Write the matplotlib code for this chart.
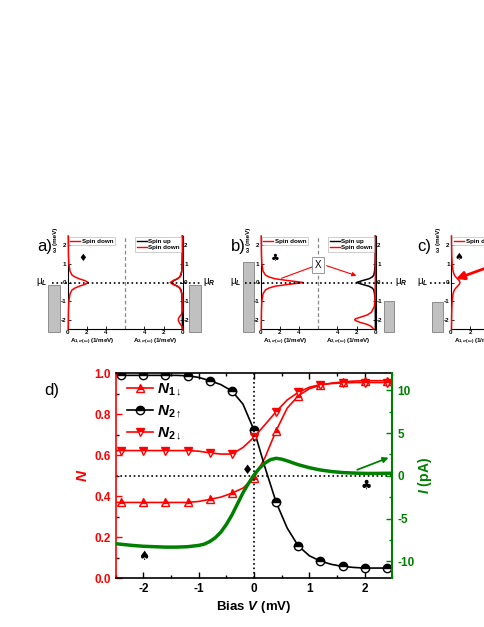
import matplotlib
matplotlib.use('Agg')
import matplotlib.pyplot as plt
from matplotlib.lines import Line2D
from matplotlib.patches import Rectangle
from matplotlib.ticker import MultipleLocator, FormatStrFormatter

plt.rcParams['font.family'] = ['Liberation Sans', 'DejaVu Sans']
plt.rcParams['font.weight'] = 'bold'
plt.rcParams['axes.unicode_minus'] = False
plt.rcParams['mathtext.fontset'] = 'custom'
plt.rcParams['mathtext.rm'] = 'Liberation Sans:bold'
plt.rcParams['mathtext.it'] = 'Liberation Sans:italic:bold'
plt.rcParams['mathtext.bf'] = 'Liberation Sans:bold'

RED = '#ff0000'
GREEN = '#008000'

# d) occupations and current vs bias
bias = [-2.5, -2.4, -2.2, -2.0, -1.8, -1.6, -1.4, -1.2, -1.0, -0.8, -0.6, -0.4, -0.2,
        0.0, 0.2, 0.4, 0.6, 0.8, 1.0, 1.2, 1.4, 1.6, 1.8, 2.0, 2.2, 2.4, 2.5]
n1_down = [0.37, 0.37, 0.37, 0.37, 0.37, 0.37, 0.37, 0.37, 0.375, 0.385, 0.396, 0.415, 0.44,
           0.49, 0.59, 0.72, 0.83, 0.89, 0.925, 0.942, 0.952, 0.958, 0.962, 0.964, 0.964, 0.964, 0.964]
n2_up = [0.99, 0.99, 0.99, 0.99, 0.99, 0.99, 0.99, 0.988, 0.98, 0.964, 0.945, 0.914, 0.85,
         0.723, 0.54, 0.371, 0.245, 0.158, 0.11, 0.084, 0.068, 0.058, 0.053, 0.05, 0.05, 0.05, 0.05]
n2_down = [0.623, 0.623, 0.623, 0.623, 0.623, 0.623, 0.623, 0.623, 0.62, 0.612, 0.606, 0.606, 0.638,
           0.688, 0.75, 0.813, 0.87, 0.907, 0.932, 0.945, 0.95, 0.953, 0.955, 0.955, 0.955, 0.955, 0.955]

bias_i = [-2.5, -2.2, -2.0, -1.8, -1.6, -1.4, -1.2, -1.0, -0.9, -0.8, -0.7, -0.6, -0.5, -0.4,
          -0.3, -0.2, -0.1, 0.0, 0.1, 0.2, 0.3, 0.4, 0.5, 0.6, 0.8, 1.0, 1.2, 1.4, 1.6, 1.8,
          2.0, 2.2, 2.5]
current = [-7.95, -8.15, -8.25, -8.3, -8.35, -8.35, -8.3, -8.15, -8.0, -7.7, -7.25, -6.6, -5.7,
           -4.6, -3.3, -2.0, -0.9, 0.1, 0.9, 1.5, 1.9, 2.05, 1.95, 1.75, 1.3, 0.95, 0.68, 0.5,
           0.38, 0.32, 0.28, 0.28, 0.3]

# a)-c) spectral functions (omega in meV, A in 1/meV)
w_peak = [-2.5, -1.5, -1.0, -0.6, -0.4, -0.3, -0.2, -0.1, 0.0, 0.1, 0.2, 0.3, 0.4, 0.6, 1.0, 1.5, 2.5]
a_A1_down = [0.05, 0.08, 0.12, 0.25, 0.45, 0.75, 1.2, 1.8, 2.15, 1.8, 1.2, 0.75, 0.45, 0.25, 0.12, 0.08, 0.05]
a_A2_up = [0.03, 0.04, 0.06, 0.1, 0.18, 0.3, 0.55, 0.95, 1.1, 0.95, 0.55, 0.3, 0.18, 0.1, 0.06, 0.04, 0.03]
w_a2 = [-2.5, -2.35, -2.2, -2.05, -1.95, -1.85, -1.7, -1.5, -1.0, -0.6, -0.3, -0.2, -0.1,
        0.0, 0.1, 0.2, 0.3, 0.6, 1.0, 2.5]
a_A2_down = [0.03, 0.08, 0.3, 0.45, 0.45, 0.35, 0.12, 0.05, 0.05, 0.08, 0.3, 0.55, 1.0,
             1.3, 1.0, 0.55, 0.3, 0.1, 0.05, 0.03]

b_A1_down = [0.05, 0.08, 0.12, 0.25, 0.5, 0.85, 1.5, 2.9, 4.45, 2.9, 1.5, 0.85, 0.5, 0.25, 0.12, 0.08, 0.05]
b_A2_up = [0.03, 0.04, 0.06, 0.12, 0.2, 0.35, 0.7, 1.4, 2.0, 1.4, 0.7, 0.35, 0.2, 0.12, 0.06, 0.04, 0.03]
w_b2 = [-2.5, -2.35, -2.25, -2.15, -2.05, -2.0, -1.95, -1.85, -1.75, -1.6, -1.3, -1.0, 0.0, 2.5]
b_A2_down = [0.2, 0.5, 0.9, 1.6, 2.1, 2.2, 2.1, 1.5, 0.9, 0.45, 0.15, 0.08, 0.04, 0.03]

c_A1_down = [0.05, 0.08, 0.12, 0.22, 0.35, 0.5, 0.68, 0.86, 0.94, 0.86, 0.68, 0.5, 0.35, 0.22, 0.12, 0.08, 0.05]

W, H = 485, 627
fig = plt.figure(figsize=(4.85, 6.27), dpi=100)


def px_rect(x0, y0, w, h):
    return [x0 / W, 1 - (y0 + h) / H, w / W, h / H]


def spectral_panel(x0, left, right, boxes, dot_span, mu_l_x, mu_r_x, suit):
    ax = fig.add_axes(px_rect(x0, 236, 115, 93))
    ax.set_xlim(0, 12)
    ax.set_ylim(-2.5, 2.5)
    ax.spines['top'].set_visible(False)
    for s in ['left', 'right', 'bottom']:
        ax.spines[s].set_linewidth(0.8)
    if right:
        ax.set_xticks([0, 2, 4, 8, 10, 12])
        ax.set_xticklabels(['0', '2', '4', '4', '2', '0'])
    else:
        ax.set_xticks([0, 2])
    ax.set_yticks([-2, -1, 0, 1, 2])
    ax.tick_params(direction='in', length=2, width=0.6, pad=1, labelsize=4.5,
                   left=True, right=bool(right), labelleft=True, labelright=bool(right))
    ax.axvline(6, color='#888888', ls=(0, (3, 2)), lw=0.9)
    ax.plot(dot_span, [0, 0], ls=':', color='k', lw=1.2, clip_on=False, zorder=6)
    for (bx, by, bw, bh) in boxes:
        ax.add_patch(Rectangle((bx, by), bw, bh, fc='#c0c0c0', ec='#808080', lw=0.6,
                               clip_on=False, zorder=1))
    for w, a, col in left:
        ax.plot(a, w, color=col, lw=1.1, clip_on=False, zorder=4)
    for w, a, col in right:
        ax.plot([12 - v for v in a], w, color=col, lw=1.1, clip_on=False, zorder=4)
    ax.text(mu_l_x, 0.05, 'μ$_L$', ha='right', va='center', fontsize=7, fontweight='normal')
    if mu_r_x is not None:
        ax.text(mu_r_x, 0.05, 'μ$_R$', ha='left', va='center', fontsize=7, fontweight='normal')
    ax.text(suit[0], suit[1], suit[2], ha='center', va='center', fontsize=7,
            family='DejaVu Sans')
    ax.text(-1.3, 2.95, 'ω (meV)', rotation=90, ha='center', va='top', fontsize=4.5,
            clip_on=False)
    ax.text(2.6, -3.2, r'A$_{1,\sigma(\omega)}$ (1/meV)', ha='center', va='center', fontsize=4.5)
    if right:
        ax.text(9.1, -3.2, r'A$_{2,\sigma(\omega)}$ (1/meV)', ha='center', va='center', fontsize=4.5)
    leg = ax.legend(handles=[Line2D([], [], color=RED, lw=1)], labels=['Spin down'],
                    loc='upper left', bbox_to_anchor=(0.01, 0.99), fontsize=4.5,
                    handlelength=1.6, handletextpad=0.3, borderpad=0.25, borderaxespad=0,
                    fancybox=False, edgecolor='#aaaaaa', framealpha=1)
    leg.get_frame().set_linewidth(0.4)
    if right:
        ax.add_artist(leg)
        leg2 = ax.legend(handles=[Line2D([], [], color='k', lw=1), Line2D([], [], color=RED, lw=1)],
                         labels=['Spin up', 'Spin down'], loc='upper left',
                         bbox_to_anchor=(0.585, 0.99), fontsize=4.5, handlelength=1.6,
                         handletextpad=0.3, borderpad=0.25, borderaxespad=0, labelspacing=0.2,
                         fancybox=False, edgecolor='#aaaaaa', framealpha=1)
        leg2.get_frame().set_linewidth(0.4)
    return ax


ax_a = spectral_panel(67.7,
                      [(w_peak, a_A1_down, RED)],
                      [(w_peak, a_A2_up, 'k'), (w_a2, a_A2_down, RED)],
                      [(-2.03, -2.65, 1.23, 2.53), (12.69, -2.65, 1.19, 2.53)],
                      [-1.6, 14.0], -2.1, 14.15, (1.52, 1.3, '♦'))
ax_b = spectral_panel(260.7,
                      [(w_peak, b_A1_down, RED)],
                      [(w_peak, b_A2_up, 'k'), (w_b2, b_A2_down, RED)],
                      [(-1.88, -2.65, 1.18, 3.74), (12.87, -2.65, 1.04, 1.67)],
                      [-1.64, 13.74], -2.0, 14.0, (1.49, 1.3, '♣'))
ax_c = spectral_panel(451,
                      [(w_peak, c_A1_down, RED)],
                      [],
                      [(-1.95, -2.65, 1.15, 1.58)],
                      [-2.2, 0], -2.35, None, (0.84, 1.39, '♠'))

# X box and arrows in b), big arrow in c)
ax_b.text(6, 0.94, 'X', ha='center', va='center', fontsize=7, fontweight='normal', zorder=7,
          bbox=dict(boxstyle='square,pad=0.3', fc='white', ec='#888888', lw=0.6))
ax_b.plot([2.19, 5.5], [0.23, 0.86], color=RED, lw=0.8, zorder=5)
ax_b.annotate('', xy=(10.26, 0.32), xytext=(6.6, 0.95),
              arrowprops=dict(arrowstyle='-|>', color=RED, lw=0.8, mutation_scale=6))
ax_c.annotate('', xy=(0.25, 0.14), xytext=(5.5, 1.13),
              arrowprops=dict(arrowstyle='-|>', color=RED, lw=2, mutation_scale=12))

for lab, x in [('a)', 45), ('b)', 238), ('c)', 424)]:
    fig.text(x / W, 1 - 246 / H, lab, ha='center', va='center', fontsize=12, fontweight='normal')
fig.text(52 / W, 1 - 391 / H, 'd)', ha='center', va='center', fontsize=12, fontweight='normal')

# d) main plot
ax = fig.add_axes(px_rect(115.7, 373.3, 276.6, 205))
mk = dict(ms=6, mew=1, fillstyle='top', mfcalt='white', markevery=slice(1, 26, 2))
ax.plot(bias, n1_down, color=RED, lw=1.2, marker='^', mfc=RED, mec=RED,
        label=r'$N_{1\downarrow}$', **mk)
ax.plot(bias, n2_up, color='k', lw=1.2, marker='o', mfc='k', mec='k',
        label=r'$N_{2\uparrow}$', **mk)
ax.plot(bias, n2_down, color=RED, lw=1.2, marker='v', mfc=RED, mec=RED,
        label=r'$N_{2\downarrow}$', **mk)
ax.axhline(0.5, color='k', ls=':', lw=1.2)
ax.axvline(0, color='k', ls=':', lw=1.2)
ax.set_xlim(-2.5, 2.5)
ax.set_ylim(0, 1)
ax.xaxis.set_major_locator(MultipleLocator(1))
ax.xaxis.set_minor_locator(MultipleLocator(0.5))
ax.yaxis.set_major_locator(MultipleLocator(0.2))
ax.yaxis.set_minor_locator(MultipleLocator(0.1))
ax.yaxis.set_major_formatter(FormatStrFormatter('%.1f'))
ax.tick_params(which='both', direction='in', top=True, width=1)
ax.tick_params(which='major', length=4, labelsize=8.5)
ax.tick_params(which='minor', length=2)
ax.tick_params(axis='y', colors=RED)
ax.spines['left'].set_color(RED)
ax.spines['right'].set_visible(False)
for s in ['left', 'top', 'bottom']:
    ax.spines[s].set_linewidth(1.2)
ax.set_ylabel(r'$N$', color=RED, fontsize=11, labelpad=3)
ax.set_xlabel(r'$\mathbf{Bias}\ V\ \mathbf{(mV)}$', fontsize=9.5, labelpad=3)
ax.text(-0.11, 0.528, '♦', ha='center', va='center', fontsize=9, family='DejaVu Sans')
ax.text(2.02, 0.455, '♣', ha='center', va='center', fontsize=9, family='DejaVu Sans')
ax.text(-2.0, 0.105, '♠', ha='center', va='center', fontsize=9, family='DejaVu Sans')
ax.legend(loc='upper left', bbox_to_anchor=(0.04, 0.96), frameon=False, fontsize=11,
          handlelength=1.7, handletextpad=0.3, labelspacing=0.35, borderpad=0, borderaxespad=0)

ax2 = ax.twinx()
ax2.plot(bias_i, current, color=GREEN, lw=2.5)
ax2.annotate('', xy=(2.48, 2.24), xytext=(1.82, 0.59),
             arrowprops=dict(arrowstyle='-|>', color=GREEN, lw=1.3, mutation_scale=8))
ax2.set_ylim(-12, 12)
ax2.yaxis.set_major_locator(MultipleLocator(5))
ax2.yaxis.set_minor_locator(MultipleLocator(2.5))
ax2.tick_params(which='both', direction='in', colors=GREEN, width=1)
ax2.tick_params(which='major', length=4, labelsize=8.5)
ax2.tick_params(which='minor', length=2)
for s in ['left', 'top', 'bottom']:
    ax2.spines[s].set_visible(False)
ax2.spines['right'].set_color(GREEN)
ax2.spines['right'].set_linewidth(1.5)
ax2.set_ylabel(r'$I\ \mathbf{(pA)}$', color=GREEN, fontsize=10, labelpad=1)

fig.savefig('out.png', dpi=100)
